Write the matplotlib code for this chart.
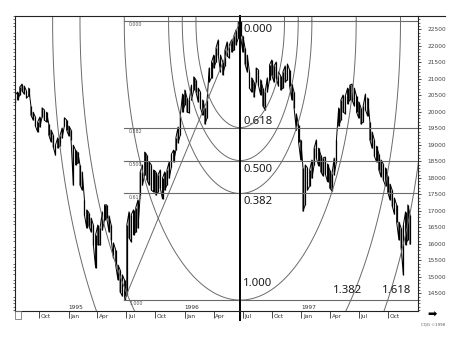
import numpy as np
import pandas as pd
import matplotlib
matplotlib.use("Agg")
import matplotlib.pyplot as plt
import matplotlib.dates as mdates
from matplotlib.lines import Line2D
from matplotlib.patches import Rectangle

# weekly high / low (Jul 1994 - Dec 1997)
week_high = [
    20510, 20600, 20750, 20840, 20780, 20630, 20720, 20180, 19990, 19840,
    19690, 19840, 20120, 20060, 19990, 19630, 19450, 19300, 18990, 19210,
    19270, 19510, 19820, 19750, 19570, 19450, 18990, 18840, 18780, 18390,
    18180, 17330, 17030, 16940, 16780, 16570, 16270, 16570, 16480, 16970,
    17180, 17180, 16850, 16570, 16030, 15820, 15360, 15210, 15060, 14900,
    16570, 16970, 16880, 17030, 17090, 17330, 18180, 18390, 18780, 18690,
    18480, 18390, 18240, 18180, 18090, 18240, 17990, 18180, 18240, 18480,
    18720, 18840, 19210, 19540, 19900, 20540, 20660, 20420, 20360, 20810,
    21060, 20970, 20720, 20600, 20360, 20120, 20360, 21330, 21510, 21720,
    21940, 22180, 21720, 21510, 21870, 22120, 22030, 22180, 22300, 22480,
    22720, 22750, 22300, 21940, 21720, 21210, 21030, 20900, 21330, 21270,
    20970, 20720, 20600, 21030, 21420, 21570, 21390, 21510, 21210, 21090,
    21210, 21390, 21450, 21270, 20840, 20600, 19940, 19600, 19150, 18300,
    18390, 18300, 18240, 18540, 18900, 19150, 18900, 18690, 18600, 18630,
    18420, 18240, 18120, 18600, 19150, 20120, 20360, 20510, 20480, 20720,
    20810, 20840, 20720, 20480, 20300, 20120, 20180, 20540, 20420, 19690,
    19390, 19150, 18960, 18720, 18540, 18420, 18300, 18060, 17810, 17630,
    17390, 17180, 16660, 16480, 16570, 16970, 17180, 16880,
]
week_low = [
    20270, 20360, 20510, 20630, 20540, 20420, 20480, 19900, 19750, 19570,
    19390, 19540, 19840, 19750, 19690, 19300, 19090, 18940, 18690, 18900,
    18970, 19210, 19570, 19450, 19270, 19150, 17780, 18390, 18450, 17780,
    17630, 16880, 16480, 16540, 16360, 15970, 15270, 15970, 15970, 16420,
    16720, 16780, 16360, 16120, 15570, 15360, 14910, 14540, 14420, 14300,
    14450, 16180, 16060, 16270, 16360, 16480, 17480, 17780, 18090, 17940,
    17780, 17630, 17570, 17480, 17570, 17690, 17360, 17630, 17780, 17990,
    18330, 18480, 18840, 19060, 19300, 19990, 20210, 19990, 19970, 20360,
    20660, 20600, 20300, 20120, 19900, 19630, 19810, 20910, 21030, 21330,
    21510, 21720, 21210, 21120, 21390, 21690, 21630, 21810, 21870, 22030,
    22240, 22300, 21810, 21450, 21210, 20720, 20600, 20450, 20900, 20810,
    20510, 20180, 20060, 20600, 20970, 21120, 20900, 21030, 20780, 20660,
    20720, 20900, 20970, 20780, 20360, 20120, 19450, 19090, 18540, 16990,
    17180, 17630, 17750, 17990, 18390, 18600, 18360, 18180, 18060, 18120,
    17880, 17690, 17600, 18090, 18480, 19570, 19750, 19990, 19940, 20240,
    20360, 20360, 20180, 19990, 19810, 19630, 19690, 20060, 19870, 19150,
    18900, 18660, 18480, 18240, 18030, 17940, 17750, 17570, 17330, 17150,
    16900, 16660, 16120, 15870, 15060, 15970, 16120, 15990,
]
weeks = pd.date_range("1994-07-18", periods=len(week_high), freq="7D")

# swing points used for the Fibonacci study
swing_low_date = pd.Timestamp("1995-06-25")
swing_low = 14295
swing_high_date = pd.Timestamp("1996-06-23")
swing_high = 22750

retrace_levels = [0.0, 0.382, 0.5, 0.618, 1.0]
retrace_names = ["0.000", "0.382", "0.500", "0.618", "1.000"]
arc_ratios = [0.382, 0.5, 0.618, 1.0, 1.382, 1.618]

x_start, x_end = pd.Timestamp("1994-07-17"), pd.Timestamp("1998-01-02")
y_low, y_high = 13964, 22903

W, H = 467, 342
fig = plt.figure(figsize=(W / 100, H / 100), dpi=100)
ax = fig.add_axes([15 / W, (H - 311) / H, (418 - 15) / W, (311 - 16) / H])
ax.set_xlim(x_start, x_end)
ax.set_ylim(y_low, y_high)

grey = "#6a6a6a"

# price bars, drawn as a jagged high/low zigzag
ax.vlines(weeks, week_low, week_high, color="black", lw=0.9)
zig_y = np.ravel([(lo, hi) if i % 2 == 0 else (hi, lo)
                  for i, (lo, hi) in enumerate(zip(week_low, week_high))])
ax.plot(np.repeat(weeks, 2), zig_y, color="black", lw=0.7)

# retracement lines from the low date to the right edge
span = swing_high - swing_low
for lvl, name in zip(retrace_levels, retrace_names):
    price = swing_high - lvl * span
    ax.plot([swing_low_date, x_end], [price, price], color=grey, lw=0.8)
    ax.text(swing_low_date + pd.Timedelta(days=15), price - 40, name,
            fontsize=3.4, color="#555555", va="top", ha="left")

# arcs centred on the high
dt = (swing_high_date - swing_low_date).days
cx = mdates.date2num(swing_high_date)
theta = np.linspace(0, 2 * np.pi, 721)
for r in arc_ratios:
    ax.plot(cx + r * dt * np.cos(theta), swing_high + r * span * np.sin(theta),
            color=grey, lw=0.7)

# trend line low -> high
ax.plot([swing_low_date, swing_high_date], [swing_low, swing_high], color=grey, lw=0.7)

# heavy vertical line at the high
trans = ax.get_xaxis_transform()
ax.plot([swing_high_date, swing_high_date], [-0.03, 1.0], transform=trans,
        color="black", lw=1.4, clip_on=False)

# big level labels
lab_x = swing_high_date + pd.Timedelta(days=9)
big = dict(fontsize=8.2, color="#1a1a1a", family=["Noto Sans", "DejaVu Sans"],
           ha="left", va="center")
ax.text(lab_x, 22500, "0.000", **big)
ax.text(lab_x, 19720, "0.618", **big)
ax.text(lab_x, 18240, "0.500", **big)
ax.text(lab_x, 17270, "0.382", **big)
ax.text(lab_x, 14790, "1.000", **big)
ax.text(pd.Timestamp("1997-04-10"), 14600, "1.382", **big)
ax.text(pd.Timestamp("1997-09-10"), 14600, "1.618", **big)

# axes styling
for s in ax.spines.values():
    s.set_linewidth(0.8)
    s.set_color("#222222")

ax.yaxis.tick_right()
ax.yaxis.set_minor_locator(plt.MultipleLocator(100))
ax.set_yticks(np.arange(14500, 22501, 500))
ax.tick_params(axis="y", which="major", right=True, left=False, length=2,
               width=0.5, pad=5, labelsize=4.2, labelcolor="#444444")
ax.tick_params(axis="y", which="minor", right=True, left=True, length=1.3,
               width=0.4, direction="out")

quarters = pd.date_range("1994-10-01", "1997-10-01", freq="QS")
ax.set_xticks(quarters)
ax.set_xticklabels([])
ax.tick_params(axis="x", which="major", length=5, width=0.5, direction="out")
for q in quarters:
    ax.text(q + pd.Timedelta(days=5), -0.02, q.strftime("%b"), transform=trans,
            fontsize=4.2, color="#333333", ha="left", va="center")
    if q.month == 1:
        ax.text(q, 0.004, str(q.year), transform=trans, fontsize=4.2,
                color="#333333", ha="left", va="bottom")

# bits of chart furniture
fig.add_artist(Line2D([418 / W, 445 / W], [(H - 16) / H] * 2, color="#222222", lw=0.8))
fig.add_artist(Rectangle((15 / W, (H - 319) / H), 6 / W, 8 / H, fill=False,
                         edgecolor="#777777", lw=0.6))
fig.text(432 / W, (H - 315) / H, "\u27a1", fontsize=8, ha="center", va="center")
fig.text(433 / W, (H - 325) / H, "CQG \u00a91998", fontsize=2.8, color="#555555",
         ha="center", va="center")

fig.savefig("out.png", dpi=100)
